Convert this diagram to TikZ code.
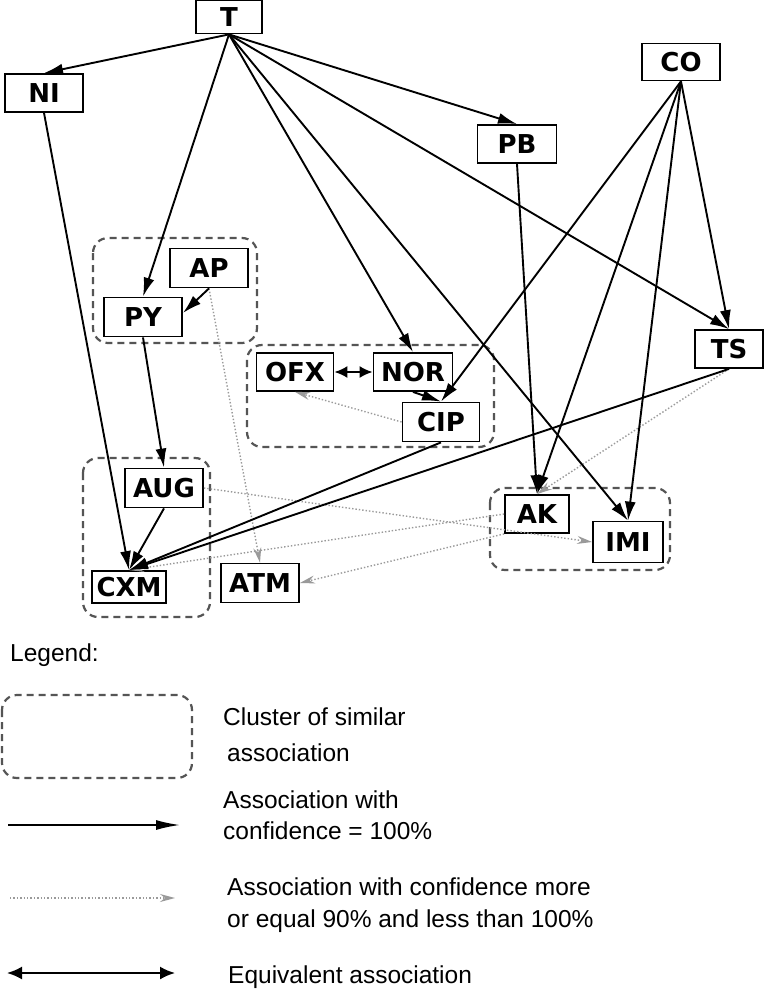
\documentclass[tikz,border=0pt]{standalone}
\usepackage{fontspec}
\setmainfont{Liberation Sans}
\newfontfamily\boxfont{DejaVu Sans}
\usetikzlibrary{arrows.meta}
\definecolor{dotgray}{HTML}{9A9A9A}
\definecolor{clustgray}{HTML}{555555}
\tikzset{
  box/.style={draw, line width=1.8pt, inner sep=0pt, fill=white,
    font=\boxfont\bfseries\fontsize{26}{28}\selectfont,
    text height=18.9pt, text depth=0pt, minimum width=78pt, minimum height=38pt},
  sarr/.style={line width=1.9pt, -{Latex[length=19pt,width=11pt]}},
  darr/.style={line width=1.4pt, draw=dotgray, dotted, -{Stealth[length=15pt,width=8pt,inset=5pt]}},
  barr/.style={line width=2pt, {Latex[length=13pt,width=12pt]}-{Latex[length=13pt,width=12pt]}},
  cluster/.style={draw=clustgray, line width=2.2pt, dash pattern=on 7pt off 5pt, rounded corners=15pt},
  legtext/.style={anchor=base west, inner sep=0pt, font=\fontsize{24.5}{28}\selectfont}
}
\begin{document}
\begin{tikzpicture}[x=1pt,y=-1pt]
\useasboundingbox (0,0) rectangle (774,990);
\fill[white] (0,0) rectangle (774,990);
% clusters
\draw[cluster] (93,238) rectangle (257,343);
\draw[cluster] (247,345) rectangle (494,447);
\draw[cluster] (83,458) rectangle (210,617);
\draw[cluster] (490,488) rectangle (670,570);
% nodes
\node[box, minimum width=66pt, minimum height=33pt] (T) at (229,17) {T};
\node[box] (NI) at (44,93) {NI};
\node[box, minimum height=37pt] (CO) at (681,62) {CO};
\node[box, minimum width=79pt] (PB) at (517,144) {PB};
\node[box, minimum height=39pt] (AP) at (209,268) {AP};
\node[box, minimum height=39pt] (PY) at (143,317) {PY};
\node[box, minimum width=77pt] (OFX) at (295,372) {OFX};
\node[box, minimum width=79pt] (NOR) at (413,372) {NOR};
\node[box, minimum width=77pt, minimum height=39pt] (CIP) at (441,422) {CIP};
\node[box, minimum height=39pt] (AUG) at (164,488) {AUG};
\node[box, minimum width=74pt, minimum height=32pt] (CXM) at (129,587) {CXM};
\node[box, minimum height=39pt] (ATM) at (260,583) {ATM};
\node[box, minimum width=64pt] (AK) at (537,514) {AK};
\node[box, minimum width=70pt, minimum height=41pt] (IMI) at (628,542) {IMI};
\node[box, minimum width=68pt] (TS) at (729,349) {TS};
% dotted associations
\draw[darr] (AP.south) -- (ATM.north);
\draw[darr] (CIP.west) -- (OFX.south);
\draw[darr] (TS.south) -- (AK.north);
\draw[darr] (AUG.east) -- (IMI.west);
\draw[darr] (AK.west) -- (CXM.north);
\draw[darr] (AK.south west) -- (ATM.east);
% solid associations
\draw[sarr] (T.south) -- (NI.north);
\draw[sarr] (T.south) -- (PY.north);
\draw[sarr] (T.south) -- (NOR.north);
\draw[sarr] (T.south) -- (PB.north);
\draw[sarr] (T.south) -- (TS.north);
\draw[sarr] (T.south) -- (IMI.north);
\draw[sarr] (NI.south) -- (CXM.north);
\draw[sarr] (AP.south) -- ([yshift=4pt]PY.east);
\draw[sarr] (PY.south) -- (AUG.north);
\draw[sarr] (AUG.south) -- (CXM.north);
\draw[sarr] (NOR.south) -- (CIP.north);
\draw[sarr] (CO.south) -- (CIP.north);
\draw[sarr] (CO.south) -- (AK.north);
\draw[sarr] (CO.south) -- (IMI.north);
\draw[sarr] (CO.south) -- (TS.north);
\draw[sarr] (PB.south) -- (AK.north);
\draw[sarr] (TS.south) -- (CXM.north);
\draw[sarr] (CIP.south) -- (CXM.north);
\draw[barr] (OFX.east) -- (NOR.west);
% legend
\node[legtext] (lg) at (10,661) {Legend:};
\draw[cluster] (2,695) rectangle (192,778);
\node[legtext] (l1a) at (223,725) {Cluster of similar};
\node[legtext] (l1b) at (227,761) {association};
\coordinate (s1) at (8,825);
\coordinate (s2) at (180,825);
\draw[line width=1.8pt, -{Latex[length=24pt,width=10pt]}] (s1) -- (s2);
\node[legtext] (l2a) at (223,808) {Association with};
\node[legtext] (l2b) at (223,839) {confidence = 100\%};
\coordinate (d1) at (10,898);
\coordinate (d2) at (175,898);
\draw[darr] (d1) -- (d2);
\node[legtext] (l3a) at (227,895) {Association with confidence more};
\node[legtext] (l3b) at (227,927) {or equal 90\% and less than 100\%};
\coordinate (e1) at (7,973);
\coordinate (e2) at (175,973);
\draw[line width=2pt, {Latex[length=15pt,width=13pt]}-{Latex[length=15pt,width=13pt]}] (e1) -- (e2);
\node[legtext] (l4) at (228,983) {Equivalent association};
\end{tikzpicture}
\end{document}
